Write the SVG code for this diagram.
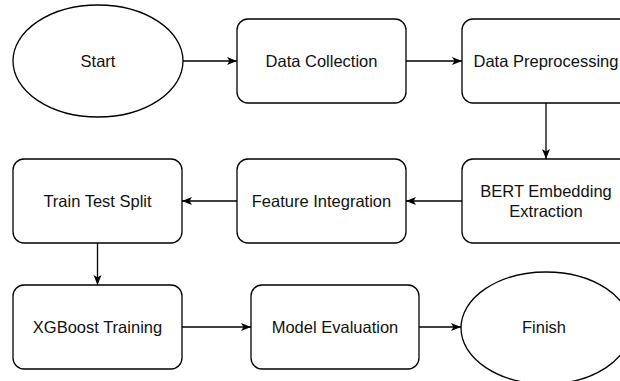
<svg xmlns="http://www.w3.org/2000/svg" width="620" height="381" viewBox="0 0 620 381">
<defs>
<marker id="arr" markerUnits="userSpaceOnUse" markerWidth="12" markerHeight="10" refX="11" refY="5" orient="auto">
<path d="M1,1 L11,5 L1,9 L3.5,5 Z" fill="#000"/>
</marker>
<style>
.n{fill:#fff;stroke:#000;stroke-width:1.3}
.t{font-family:"Liberation Sans",Arial,sans-serif;font-size:16.5px;fill:#111;text-anchor:middle;dominant-baseline:central}
.c{fill:none;stroke:#000;stroke-width:1.3;marker-end:url(#arr)}
</style>
</defs>
<rect width="620" height="381" fill="#fff"/>
<g id="connectors">
<line class="c" x1="183" y1="61" x2="237" y2="61"/>
<line class="c" x1="406" y1="61" x2="462" y2="61"/>
<line class="c" x1="546" y1="103" x2="546" y2="159"/>
<line class="c" x1="462" y1="201" x2="406" y2="201"/>
<line class="c" x1="237" y1="201" x2="182" y2="201"/>
<line class="c" x1="97.5" y1="243" x2="97.5" y2="285"/>
<line class="c" x1="182" y1="327" x2="251" y2="327"/>
<line class="c" x1="419" y1="327" x2="461" y2="327"/>
</g>
<g id="start"><ellipse class="n" cx="98" cy="61" rx="85" ry="56"/><text class="t" x="98" y="61">Start</text></g>
<g id="data-collection"><rect class="n" x="237" y="19" width="169" height="84" rx="11"/><text class="t" x="321.5" y="61">Data Collection</text></g>
<g id="data-preprocessing"><rect class="n" x="462" y="19" width="169" height="84" rx="11"/><text class="t" x="546" y="61">Data Preprocessing</text></g>
<g id="bert"><rect class="n" x="462" y="159" width="169" height="84" rx="11"/><text class="t" x="546" y="191">BERT Embedding</text><text class="t" x="546" y="211">Extraction</text></g>
<g id="feature-integration"><rect class="n" x="237" y="159" width="169" height="84" rx="11"/><text class="t" x="321.5" y="201">Feature Integration</text></g>
<g id="train-test-split"><rect class="n" x="13" y="159" width="169" height="84" rx="11"/><text class="t" x="97.5" y="201">Train Test Split</text></g>
<g id="xgboost"><rect class="n" x="13" y="285" width="169" height="84" rx="11"/><text class="t" x="97.5" y="327">XGBoost Training</text></g>
<g id="model-evaluation"><rect class="n" x="251" y="285" width="168" height="84" rx="11"/><text class="t" x="335" y="327">Model Evaluation</text></g>
<g id="finish"><ellipse class="n" cx="546" cy="328" rx="85" ry="56"/><text class="t" x="544" y="327">Finish</text></g>
</svg>
